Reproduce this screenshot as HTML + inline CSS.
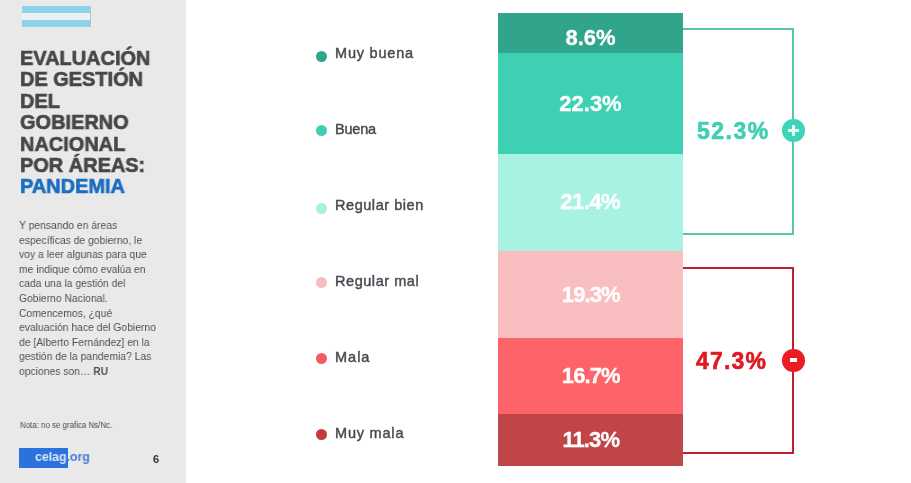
<!DOCTYPE html>
<html><head><meta charset="utf-8">
<style>
*{margin:0;padding:0;box-sizing:border-box}
html,body{width:911px;height:483px;overflow:hidden;background:#fff}
body{position:relative;font-family:"Liberation Sans",sans-serif}
.a{position:absolute}
#title,#body,#nota,#pg,#celag,.lab,.pct,.tot{will-change:transform}
#panel{left:0;top:0;width:186px;height:483px;background:#e9e9e9}
#flag{left:22px;top:6px;width:69px;border-right:1px solid #b8c4cc;height:21px;background:linear-gradient(#8dd3ec 0 7px,#eef1f3 7px 14px,#8dd3ec 14px 21px)}
#title{left:20px;top:46.8px;transform:scaleX(0.95);transform-origin:0 0;-webkit-text-stroke:0.7px #49464a;font-weight:bold;font-size:21px;line-height:21.37px;color:#49464a;white-space:nowrap}
#title .b{color:#1c6ec2;-webkit-text-stroke:0.7px #1c6ec2}
#body{left:19px;top:217.7px;transform:scaleX(0.9);transform-origin:0 0;font-size:11.5px;line-height:14.6px;color:#525252;white-space:nowrap}
#nota{left:20px;top:420px;transform:scaleX(0.93);transform-origin:0 0;font-size:8.5px;color:#4a4a4a;white-space:nowrap}
#logo{left:19px;top:448px;width:49px;height:20px;background:#2a72de}
#celag{left:35px;top:447px;transform:scaleX(0.95);transform-origin:0 0;font-size:13px;font-weight:bold;line-height:20px;white-space:nowrap;color:#d9e7f7}
#celag span{color:#467ed2}
#pg{left:153px;top:453px;font-size:11px;font-weight:bold;color:#333}
.dot{position:absolute;left:316px;width:11px;height:11px;border-radius:50%}
.lab{position:absolute;left:335px;margin-top:0.5px;font-size:14.5px;letter-spacing:0.8px;color:#4a4a52;-webkit-text-stroke:0.45px #4a4a52;white-space:nowrap;line-height:16px}
.seg{position:absolute;left:498px;width:185px}
.pct{position:absolute;left:498px;width:185px;text-align:center;color:#fff;font-weight:bold;font-size:22px;line-height:24px;-webkit-text-stroke:0.3px #fff}
.ln{position:absolute}
.tot{position:absolute;margin-top:1px;font-weight:bold;font-size:23px;line-height:28px;-webkit-text-stroke:0.6px currentColor;white-space:nowrap}
.circ{position:absolute;width:22.6px;height:22.6px;border-radius:50%}
</style></head><body>
<div id="panel" class="a"></div>
<div id="flag" class="a"></div>
<div id="title" class="a">EVALUACIÓN<br>DE GESTIÓN<br>DEL<br>GOBIERNO<br>NACIONAL<br>POR ÁREAS:<br><span class="b">PANDEMIA</span></div>
<div id="body" class="a">Y pensando en áreas<br>específicas de gobierno, le<br>voy a leer algunas para que<br>me indique cómo evalúa en<br>cada una la gestión del<br>Gobierno Nacional.<br>Comencemos, ¿qué<br>evaluación hace del Gobierno<br>de [Alberto Fernández] en la<br>gestión de la pandemia? Las<br>opciones son… <b>RU</b></div>
<div id="nota" class="a">Nota: no se grafica Ns/Nc.</div>
<div id="logo" class="a"></div>
<div id="celag" class="a">celag<span>.org</span></div>
<div id="pg" class="a">6</div>

<div class="dot" style="top:51px;background:#31a58c"></div>
<div class="dot" style="top:125px;background:#3ecfb2"></div>
<div class="dot" style="top:203px;background:#a8f0e3"></div>
<div class="dot" style="top:277px;background:#f6bec0"></div>
<div class="dot" style="top:353px;background:#f45b64"></div>
<div class="dot" style="top:429px;background:#c6383e"></div>

<div class="lab" style="letter-spacing:0.8px;top:44px">Muy buena</div>
<div class="lab" style="letter-spacing:-0.2px;top:120px">Buena</div>
<div class="lab" style="letter-spacing:0.55px;top:196px">Regular bien</div>
<div class="lab" style="letter-spacing:0.55px;top:272px">Regular mal</div>
<div class="lab" style="letter-spacing:1.0px;top:348px">Mala</div>
<div class="lab" style="letter-spacing:0.8px;top:424px">Muy mala</div>

<div class="seg" style="top:13px;height:40px;background:#30a58b"></div>
<div class="seg" style="top:53px;height:101px;background:#3dd0b2"></div>
<div class="seg" style="top:154px;height:97px;background:#a8f2e4"></div>
<div class="seg" style="top:251px;height:87px;background:#f9bfc0"></div>
<div class="seg" style="top:338px;height:76px;background:#fc6469"></div>
<div class="seg" style="top:414px;height:52px;background:#c04546"></div>

<div class="pct" style="top:26px">8.6%</div>
<div class="pct" style="top:92px">22.3%</div>
<div class="pct" style="top:190px;letter-spacing:-0.5px;text-indent:-0.5px">21.4%</div>
<div class="pct" style="letter-spacing:-0.9px;text-indent:0.5px;top:283px">19.3%</div>
<div class="pct" style="letter-spacing:-0.9px;text-indent:0.5px;top:364px">16.7%</div>
<div class="pct" style="letter-spacing:-0.9px;text-indent:0.5px;top:428px">11.3%</div>

<div class="ln" style="left:683px;top:28px;width:111px;height:2px;background:#58c4ae"></div>
<div class="ln" style="left:792px;top:28px;width:2px;height:207px;background:#58c4ae"></div>
<div class="ln" style="left:683px;top:233px;width:111px;height:2px;background:#58c4ae"></div>
<div class="circ" style="left:782px;top:119px;background:#3ed4b8"></div>
<div class="ln" style="left:788px;top:129px;width:11px;height:3px;background:#e6fffb"></div>
<div class="ln" style="left:792px;top:125px;width:3px;height:11px;background:#e6fffb"></div>
<div class="tot" style="left:697px;top:116.3px;letter-spacing:1.5px;color:#3ecfb2">52.3%</div>

<div class="ln" style="left:683px;top:267px;width:111px;height:2px;background:#c0202a"></div>
<div class="ln" style="left:792px;top:267px;width:2px;height:187px;background:#c0202a"></div>
<div class="ln" style="left:683px;top:452px;width:111px;height:2px;background:#c0202a"></div>
<div class="circ" style="left:782px;top:349px;background:#ec1b24"></div>
<div class="ln" style="left:790px;top:358px;width:7px;height:4px;background:#fff"></div>
<div class="tot" style="left:696px;top:346.3px;letter-spacing:1.2px;color:#e0181f">47.3%</div>
</body></html>
